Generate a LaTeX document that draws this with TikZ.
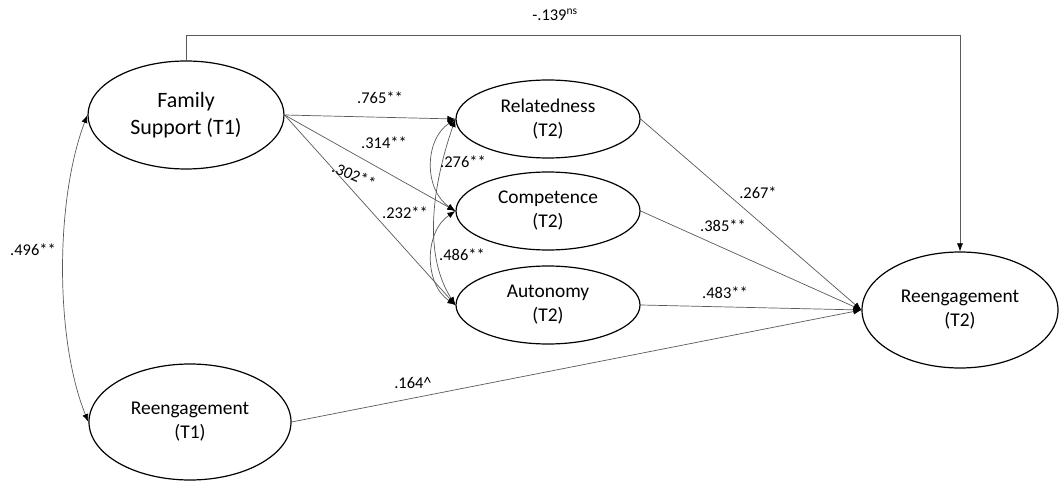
\documentclass[tikz,border=0pt]{standalone}
\usepackage{fontspec}
\setmainfont{Carlito}
\usetikzlibrary{shapes.geometric,arrows.meta}
\tikzset{
  lat/.style={ellipse, draw=black, line width=1.2bp, inner sep=0pt, align=center,
    font=\fontsize{19.5}{24}\selectfont},
  path/.style={draw=black!65, line width=0.7bp, -{Latex[length=8bp,width=6bp,black]}},
  cov/.style={draw=black!65, line width=0.7bp, {Latex[length=8bp,width=6bp,black]}-{Latex[length=8bp,width=6bp,black]}},
  lab/.style={font=\fontsize{16.5}{19}\selectfont, inner sep=0pt}
}
\begin{document}
\begin{tikzpicture}[x=1bp,y=-1bp]
\useasboundingbox (0,0) rectangle (1059,481);
\node[lat, minimum width=196bp, minimum height=108bp, font=\fontsize{22}{27}\selectfont] (fs) at (186,115) {Family\\Support (T1)};
\node[lat, minimum width=202bp, minimum height=116bp] (re1) at (190,422) {Reengagement\\(T1)};
\node[lat, minimum width=184bp, minimum height=78bp] (rel) at (548,119) {Relatedness\\(T2)};
\node[lat, minimum width=184bp, minimum height=78bp] (com) at (548,211) {Competence\\(T2)};
\node[lat, minimum width=184bp, minimum height=78bp] (aut) at (548,305) {Autonomy\\(T2)};
\node[lat, minimum width=196bp, minimum height=116bp] (re2) at (960,310) {Reengagement\\(T2)};
\coordinate (topl) at (186,35);
% paths
\draw[path] (fs.east) -- (rel.west);
\draw[path] (fs.east) -- (com.west);
\draw[path] (fs.east) -- (aut.west);
\draw[path] (rel.east) -- (re2.west);
\draw[path] (com.east) -- (re2.west);
\draw[path] (aut.east) -- (re2.west);
\draw[path] (re1.east) -- (re2.west);
\draw[path] (fs.north) -- (topl) -| (re2.north);
% covariances
\draw[cov] (fs.west) .. controls (55,200) and (55,340) .. (re1.west);
\draw[cov] (rel.west) .. controls (424,140) and (424,190) .. (com.west);
\draw[cov] (com.west) .. controls (424,232) and (424,284) .. (aut.west);
\draw[cov] (rel.west) .. controls (436,175) and (420,250) .. (aut.west);
% labels
\node[lab] (l1) at (380,98) {.765**};
\node[lab] (l2) at (384,143) {.314**};
\node[lab, rotate=-23] (l3) at (354,175) {.302**};
\node[lab] (l4) at (405,213) {.232**};
\node[lab] (l5) at (463,162) {.276**};
\node[lab] (l6) at (462,255) {.486**};
\node[lab] (l7) at (758,193) {.267*};
\node[lab] (l8) at (723,226) {.385**};
\node[lab] (l9) at (725,293) {.483**};
\node[lab] (l10) at (413,383) {.164\^{}};
\node[lab] (l11) at (33,250) {.496**};
\node[lab] (l12) at (555,15) {-.139\textsuperscript{ns}};
\end{tikzpicture}
\end{document}
